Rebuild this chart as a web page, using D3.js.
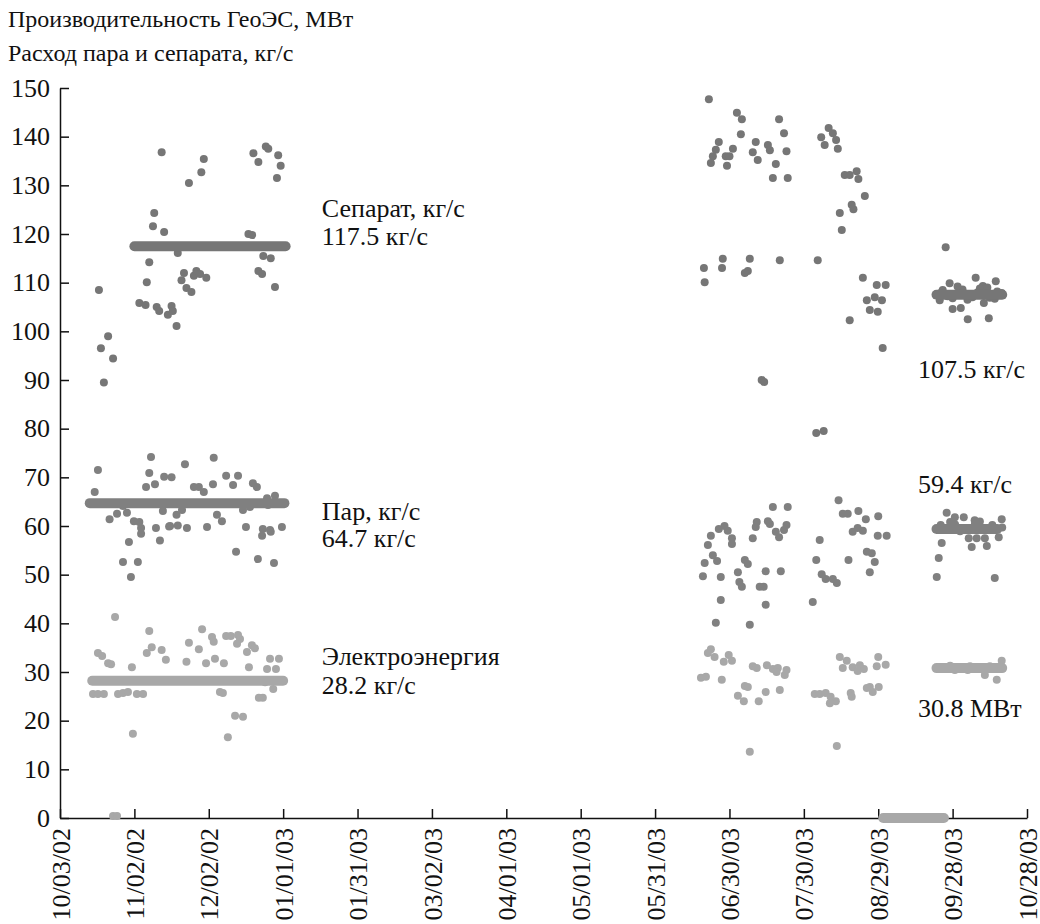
<!DOCTYPE html>
<html>
<head>
<meta charset="utf-8">
<script src="https://cdn.jsdelivr.net/npm/d3@7"></script>
<style>
  html, body { margin: 0; padding: 0; background: #fff; }
  svg { display: block; font-family: "Liberation Serif", "Times New Roman", serif; }
</style>
</head>
<body>
<svg id="chart" width="1040" height="924"></svg>
<script>
// ---------- DATA (day = days since 2002-10-03, value) ----------
const startDate = "2002-10-03";
const endDate = "2003-10-28";
const tickDays = [0, 30, 60, 90, 120, 150, 180, 210, 240, 270, 300, 330, 360, 390];
const yTicks = [0, 10, 20, 30, 40, 50, 60, 70, 80, 90, 100, 110, 120, 130, 140, 150];

const titleLines = ["Производительность ГеоЭС, МВт", "Расход пара и сепарата, кг/с"];

// Сепарат, кг/с
const separatPoints = [
  [15.7,108.5],[16.5,96.5],[19.4,99],[17.7,89.5],[21.4,94.4],
  [41,136.8],[52,130.5],[57,132.7],[58,135.4],[78,136.6],[80,134.8],[83,138],[84,137.5],[88,136.2],[89,134],[87.5,131.5],
  [38,124.3],[37.5,121.6],[42,120.4],[47.5,116.1],[36,114.2],[35,110.1],[32,105.8],[34.5,105.4],[39,105],[40,104.2],
  [43.5,103.4],[45,105.2],[45.5,104.2],[47,101.1],[49,110.5],[50,112],[51,108.9],[53,108.1],[54,111.4],[55,112.4],
  [56.5,111.8],[59,111],[76,120],[77.5,119.8],[82,115.5],[85,115],[80,112.4],[81.5,111.8],[86.7,109.1],
  [261.7,147.7],[273,144.9],[275,143.6],[274.6,140.5],[265.7,138.9],[264.5,137.3],[263.3,136],[262.5,134.6],
  [268.5,136],[271.4,137.5],[270,136],[269,134],[280.6,138.9],[279.4,136.8],[281.4,135.2],[285.5,138.3],[286.3,137.2],
  [290,143.6],[292,140.7],[293,137],[288.7,134.4],[287.5,131.5],[293.5,131.5],
  [310,141.8],[307,139.9],[311.7,140.7],[313,139.3],[308.4,138.3],[313.7,137.5],[316.5,132.1],[318.5,132.1],
  [321.3,132.9],[322,131.3],[324.6,127.8],[314.5,124.3],[319.3,126],[320,125.1],[315.3,120.8],
  [259.7,113],[260,110.1],[267.3,114.9],[267,113],[278.2,114.9],[277.4,112.4],[276.2,112],[290.3,114.6],[305.6,114.6],
  [283,90],[284,89.6],[305,79.1],[308,79.5],
  [323.8,111],[329.4,109.5],[333,109.5],[325.4,106.4],[328.6,107],[331.5,106.4],[326.6,104.4],[329.8,104],[331.8,96.6],[318.5,102.3],
  [357.2,117.3],[358.8,109.9],[369.3,111],[377.4,110.3],[372.2,109.3],[360,104.6],[363.3,104.8],[366.1,102.5],
  [374.6,102.7],[372.6,105.8],[354.8,106.4],[379.8,107.9],
  [356,108.5],[360,106.8],[364,108.6],[368,107],[371,108.8],[375,106.9],[378,108.2],[358,107.2],[362,109.2],
  [366,106.5],[370,108],[374,109],[377,106.7],[355,107.8]
];

// Пар, кг/с
const parPoints = [
  [15.3,71.5],[14,67],[36.7,74.2],[36,70.9],[34.7,68],[38.3,68.6],[42,70.1],[45,70],[50.4,72.7],[54,68],[56,68],[58,67],
  [62,74],[61.7,68.6],[67,70.3],[71.8,70.3],[69.8,68.4],[77.8,68.8],[79.4,68],[83.5,65.7],[86.7,66.2],
  [20,61.4],[23,62.5],[25.4,64.1],[27,62.7],[29.8,61],[32,60.8],[32.7,59.6],[38.7,59.6],[41.5,63.1],[44.4,60],[47,62.3],
  [49.2,63.3],[51.2,59.6],[59.3,59.8],[63.3,62.3],[65.3,61],[73.8,63.3],[76.6,63.9],[75,59.8],[81.8,59.4],[84.7,59.2],
  [89.5,59.8],[83.9,64.3],[32.7,58.4],[27.8,56.7],[25.4,52.6],[31.4,52.6],[28.6,49.5],[40.3,57],[71,54.7],[81.5,58],
  [85,58.8],[79.8,53.2],[86.3,52.4],[44,59.9],[47.5,60.1],
  [287.5,63.9],[293.5,63.9],[314,65.3],[315.7,62.5],[317.7,62.5],[322,63.1],[325,61.4],[330,62],[319.7,58.8],[321.7,59.6],
  [323.8,59],[329.8,58],[306.4,57.1],
  [262.5,58],[261.3,56.1],[265.7,59.4],[268,60],[269.3,59],[271,57.5],[271,56.3],[279.4,57.5],[280.6,59.8],[281,60.8],
  [285.5,61],[286.3,60.4],[288.7,58.8],[290,57.7],[292,59.2],[293,60.2],
  [263.3,54],[265,52.8],[260,52.4],[259.3,49.7],[266.5,49.5],[273.4,50.5],[276.2,53],[277.4,52.2],[274,48.5],[275,47.5],
  [282.2,47.5],[283.8,47.5],[284.6,50.7],[290.7,50.7],[284.6,43.8],[266.5,44.8],[264.5,40.1],[278.2,39.7],
  [305,53],[318,53],[303.6,44.4],[307.2,50.1],[308.8,49.1],[311.7,49.1],[313.3,48.3],[325.4,54.7],[327.4,54.4],
  [328.6,52.6],[326.6,50.5],[333.4,58],
  [357.6,62.7],[360.9,61.8],[364.5,61.8],[368.9,61.2],[379.8,61.4],[366.5,57.5],[369.7,57.5],[373,57.5],[378.6,57.7],
  [367.7,55.7],[373.8,55.9],[355.6,56.5],[354.4,53.4],[353.6,49.5],[377,49.3],[355.2,60.2],
  [357,59.6],[361,60.3],[365,59.5],[369,60.4],[373,59.4],[376,60.2],[380,59.7],[359,60.8],[363,58.9],[371,60.9]
];

// Электроэнергия, МВт
const elecPoints = [
  [22.2,41.3],[15.3,33.9],[17,33.3],[19.4,31.8],[20.6,31.6],[29,31],[13.3,25.5],[15.3,25.5],[17.7,25.5],[23.4,25.5],
  [25.4,25.7],[27.4,25.9],[31,25.5],[33.5,25.5],[36,38.4],[35,33.9],[37,35.1],[41,34.5],[42.7,32.5],[51,32.1],[52,36],
  [56,34.7],[57.3,38.8],[61.3,37.2],[62,36.2],[58.9,31.8],[62.5,32.7],[66.1,31.8],[67,37.4],[68.9,37.4],[71.8,37.6],
  [72.6,36.8],[71.4,35.8],[77.4,35.5],[78.6,34.9],[75.4,34.1],[76.2,31],[84.7,32.7],[88.3,32.7],[83.5,30.6],[87.1,30.6],
  [82.7,27.9],[86,26.5],[64.5,25.9],[65.7,25.7],[80.2,24.7],[81.8,24.7],[70.6,21],[73.8,20.8],[29.4,17.3],[67.7,16.6],
  [21.4,0.4],[23,0.4],
  [262.5,34.7],[261.3,33.9],[264,33.1],[269.7,33.5],[271,32.3],[267.7,32.1],[279.4,31.2],[281,30.8],[285.1,31.4],
  [287.5,30.6],[289.5,30.8],[293,30.4],[292.3,29.4],[289,30],[258.5,28.8],[260.5,29],[266.9,28.4],[276.2,27.1],
  [277.4,26.9],[284.6,25.9],[290.3,26.3],[273.4,25.1],[275.8,24],[281.8,24],
  [314.5,33.1],[317.3,32.3],[315.7,30.8],[319.7,31],[322.6,31.4],[324.2,30.6],[321.7,30.2],[330,33.1],[329.4,31.2],
  [326.6,26.9],[327.8,25.9],[330.2,26.9],[304.4,25.5],[306.4,25.5],[308.8,25.7],[310.8,24.9],[312.9,24],[310.5,23.6],
  [318.9,25.7],[319.3,24.9],[325.4,26.7],[278.2,13.6],[313.3,14.8],[333,31.5],
  [360.9,30.4],[366.1,30.4],[373,29.4],[377.8,28.4],[379.8,32.3],
  [356,31],[359,31.3],[363,30.9],[367,31.2],[371,30.8],[375,31.2],[378,31]
];

// Mean lines: series, value, from day, to day
const meanSeries   = ["sep", "par", "el", "sep", "par", "el", "el"];
const meanValues   = [117.5, 64.7, 28.2, 107.5, 59.4, 30.8, 0];
const meanFromDays = [30, 12, 13, 353.5, 353.5, 353.5, 332];
const meanToDays   = [91, 90.5, 90, 380, 378, 380, 356.5];

// Annotations: text, anchor day, anchor value (baseline)
const annTexts  = ["Сепарат, кг/с", "117.5 кг/с", "Пар, кг/с", "64.7 кг/с", "Электроэнергия", "28.2 кг/с",
                   "107.5 кг/с", "59.4 кг/с", "30.8 МВт"];
const annDays   = [105.6, 105.6, 105.6, 105.6, 105.6, 105.6, 346, 346, 346];
const annValues = [123.5, 117.7, 61.2, 55.7, 31.4, 25.5, 90.4, 66.8, 20.8];

// ---------- STYLE ----------
const colors = { sep: "#767676", par: "#808080", el: "#a8a8a8" };
const FONT = "Liberation Serif, Times New Roman, serif";

// ---------- CHART ----------
const svg = d3.select("#chart");
const margin = { left: 60, right: 13, top: 88, bottom: 106 };
const W = 1040, H = 924;

const t0 = new Date(startDate + "T00:00:00Z");
const t1 = new Date(endDate + "T00:00:00Z");
const dayToDate = d => new Date(t0.getTime() + d * 864e5);

const x = d3.scaleUtc().domain([t0, t1]).range([margin.left, W - margin.right]);
const y = d3.scaleLinear().domain([0, 150]).range([H - margin.bottom, margin.top]);

// title
svg.append("g").selectAll("text").data(titleLines).join("text")
  .attr("x", 8).attr("y", (d, i) => 27 + i * 34)
  .attr("font-size", 24).attr("font-family", FONT).attr("fill", "#111").text(d => d);

// axes
const fmt = d3.utcFormat("%m/%d/%y");
const xAxis = d3.axisBottom(x).tickValues(tickDays.map(dayToDate)).tickFormat(fmt)
  .tickSizeInner(-9).tickSizeOuter(0);
const gx = svg.append("g").attr("transform", `translate(0,${y(0)})`).call(xAxis);
gx.selectAll("text")
  .attr("transform", "rotate(-90)")
  .attr("x", -10).attr("y", 0).attr("dy", "0.35em")
  .style("text-anchor", "end")
  .attr("font-size", 26).attr("font-family", FONT).attr("fill", "#111");

const yAxis = d3.axisLeft(y).tickValues(yTicks).tickSizeInner(-9).tickSizeOuter(0).tickPadding(10);
const gy = svg.append("g").attr("transform", `translate(${x(t0)},0)`).call(yAxis);
gy.selectAll("text").attr("font-size", 26).attr("font-family", FONT).attr("fill", "#111");

[gx, gy].forEach(g => {
  g.attr("font-family", FONT);
  g.select(".domain").attr("stroke", "#111").attr("stroke-width", 1.5);
  g.selectAll(".tick line").attr("stroke", "#111").attr("stroke-width", 1.5);
});

// points
const series = [
  { key: "el", pts: elecPoints },
  { key: "par", pts: parPoints },
  { key: "sep", pts: separatPoints }
];
series.forEach(s => {
  svg.append("g").selectAll("circle").data(s.pts).join("circle")
    .attr("cx", d => x(dayToDate(d[0])))
    .attr("cy", d => y(d[1]))
    .attr("r", 4)
    .attr("fill", colors[s.key]);
});

// mean lines
const means = meanValues.map((v, i) => ({ key: meanSeries[i], v, a: meanFromDays[i], b: meanToDays[i] }));
svg.append("g").selectAll("line").data(means).join("line")
  .attr("x1", d => x(dayToDate(d.a)))
  .attr("x2", d => x(dayToDate(d.b)))
  .attr("y1", d => y(d.v))
  .attr("y2", d => y(d.v))
  .attr("stroke", d => colors[d.key])
  .attr("stroke-width", 10)
  .attr("stroke-linecap", "round");

// annotations
svg.append("g").selectAll("text").data(annTexts).join("text")
  .attr("x", (d, i) => x(dayToDate(annDays[i])))
  .attr("y", (d, i) => y(annValues[i]))
  .attr("font-size", 26).attr("font-family", FONT).attr("fill", "#111")
  .text(d => d);
</script>
</body>
</html>
